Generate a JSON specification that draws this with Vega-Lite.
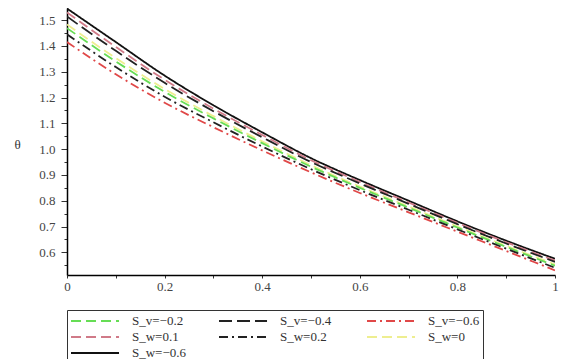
{
  "$schema": "https://vega.github.io/schema/vega-lite/v6.json",
  "width": 488,
  "height": 267,
  "autosize": {"type": "none"},
  "padding": {"left": 67, "top": 8, "right": 13, "bottom": 84},
  "background": "white",
  "config": {
    "view": {"stroke": null},
    "font": "Liberation Serif",
    "axis": {"domainColor": "black", "domainWidth": 1.5, "tickColor": "#333", "labelColor": "#444", "grid": false}
  },
  "data": {"values": [
    {"series": "S_w=−0.6", "x": 0.0, "theta": 1.545},
    {"series": "S_w=−0.6", "x": 0.1, "theta": 1.415},
    {"series": "S_w=−0.6", "x": 0.2, "theta": 1.285},
    {"series": "S_w=−0.6", "x": 0.3, "theta": 1.17},
    {"series": "S_w=−0.6", "x": 0.4, "theta": 1.065},
    {"series": "S_w=−0.6", "x": 0.5, "theta": 0.965},
    {"series": "S_w=−0.6", "x": 0.6, "theta": 0.88},
    {"series": "S_w=−0.6", "x": 0.7, "theta": 0.8},
    {"series": "S_w=−0.6", "x": 0.8, "theta": 0.72},
    {"series": "S_w=−0.6", "x": 0.9, "theta": 0.645},
    {"series": "S_w=−0.6", "x": 1.0, "theta": 0.575},

    {"series": "S_w=0.1", "x": 0.0, "theta": 1.53},
    {"series": "S_w=0.1", "x": 0.1, "theta": 1.396},
    {"series": "S_w=0.1", "x": 0.2, "theta": 1.269},
    {"series": "S_w=0.1", "x": 0.3, "theta": 1.157},
    {"series": "S_w=0.1", "x": 0.4, "theta": 1.055},
    {"series": "S_w=0.1", "x": 0.5, "theta": 0.957},
    {"series": "S_w=0.1", "x": 0.6, "theta": 0.873},
    {"series": "S_w=0.1", "x": 0.7, "theta": 0.793},
    {"series": "S_w=0.1", "x": 0.8, "theta": 0.714},
    {"series": "S_w=0.1", "x": 0.9, "theta": 0.639},
    {"series": "S_w=0.1", "x": 1.0, "theta": 0.568},

    {"series": "S_v=−0.4", "x": 0.0, "theta": 1.514},
    {"series": "S_v=−0.4", "x": 0.1, "theta": 1.381},
    {"series": "S_v=−0.4", "x": 0.2, "theta": 1.257},
    {"series": "S_v=−0.4", "x": 0.3, "theta": 1.147},
    {"series": "S_v=−0.4", "x": 0.4, "theta": 1.046},
    {"series": "S_v=−0.4", "x": 0.5, "theta": 0.95},
    {"series": "S_v=−0.4", "x": 0.6, "theta": 0.867},
    {"series": "S_v=−0.4", "x": 0.7, "theta": 0.788},
    {"series": "S_v=−0.4", "x": 0.8, "theta": 0.709},
    {"series": "S_v=−0.4", "x": 0.9, "theta": 0.634},
    {"series": "S_v=−0.4", "x": 1.0, "theta": 0.563},

    {"series": "S_w=0", "x": 0.0, "theta": 1.483},
    {"series": "S_w=0", "x": 0.1, "theta": 1.353},
    {"series": "S_w=0", "x": 0.2, "theta": 1.233},
    {"series": "S_w=0", "x": 0.3, "theta": 1.128},
    {"series": "S_w=0", "x": 0.4, "theta": 1.03},
    {"series": "S_w=0", "x": 0.5, "theta": 0.938},
    {"series": "S_w=0", "x": 0.6, "theta": 0.855},
    {"series": "S_w=0", "x": 0.7, "theta": 0.778},
    {"series": "S_w=0", "x": 0.8, "theta": 0.7},
    {"series": "S_w=0", "x": 0.9, "theta": 0.625},
    {"series": "S_w=0", "x": 1.0, "theta": 0.553},

    {"series": "S_v=−0.2", "x": 0.0, "theta": 1.469},
    {"series": "S_v=−0.2", "x": 0.1, "theta": 1.34},
    {"series": "S_v=−0.2", "x": 0.2, "theta": 1.222},
    {"series": "S_v=−0.2", "x": 0.3, "theta": 1.119},
    {"series": "S_v=−0.2", "x": 0.4, "theta": 1.023},
    {"series": "S_v=−0.2", "x": 0.5, "theta": 0.932},
    {"series": "S_v=−0.2", "x": 0.6, "theta": 0.85},
    {"series": "S_v=−0.2", "x": 0.7, "theta": 0.773},
    {"series": "S_v=−0.2", "x": 0.8, "theta": 0.696},
    {"series": "S_v=−0.2", "x": 0.9, "theta": 0.621},
    {"series": "S_v=−0.2", "x": 1.0, "theta": 0.548},

    {"series": "S_w=0.2", "x": 0.0, "theta": 1.445},
    {"series": "S_w=0.2", "x": 0.1, "theta": 1.318},
    {"series": "S_w=0.2", "x": 0.2, "theta": 1.203},
    {"series": "S_w=0.2", "x": 0.3, "theta": 1.104},
    {"series": "S_w=0.2", "x": 0.4, "theta": 1.01},
    {"series": "S_w=0.2", "x": 0.5, "theta": 0.922},
    {"series": "S_w=0.2", "x": 0.6, "theta": 0.841},
    {"series": "S_w=0.2", "x": 0.7, "theta": 0.765},
    {"series": "S_w=0.2", "x": 0.8, "theta": 0.689},
    {"series": "S_w=0.2", "x": 0.9, "theta": 0.614},
    {"series": "S_w=0.2", "x": 1.0, "theta": 0.54},

    {"series": "S_v=−0.6", "x": 0.0, "theta": 1.415},
    {"series": "S_v=−0.6", "x": 0.1, "theta": 1.29},
    {"series": "S_v=−0.6", "x": 0.2, "theta": 1.18},
    {"series": "S_v=−0.6", "x": 0.3, "theta": 1.085},
    {"series": "S_v=−0.6", "x": 0.4, "theta": 0.995},
    {"series": "S_v=−0.6", "x": 0.5, "theta": 0.91},
    {"series": "S_v=−0.6", "x": 0.6, "theta": 0.83},
    {"series": "S_v=−0.6", "x": 0.7, "theta": 0.755},
    {"series": "S_v=−0.6", "x": 0.8, "theta": 0.68},
    {"series": "S_v=−0.6", "x": 0.9, "theta": 0.605},
    {"series": "S_v=−0.6", "x": 1.0, "theta": 0.53}
  ]},
  "mark": {"type": "line", "strokeWidth": 1.8, "interpolate": "monotone", "clip": true},
  "encoding": {
    "x": {
      "field": "x", "type": "quantitative",
      "scale": {"domain": [0, 1], "nice": false, "zero": false},
      "axis": {
        "title": "y", "titleFontSize": 13, "titleColor": "#333", "titleFont": "Liberation Serif", "titleFontWeight": "normal",
        "titleX": 225, "titleY": 292, "titleBaseline": "middle", "titleAlign": "center",
        "values": [0, 0.1, 0.2, 0.3, 0.4, 0.5, 0.6, 0.7, 0.8, 0.9, 1],
        "labelExpr": "abs(datum.value*5 - round(datum.value*5)) > 0.01 ? '' : (datum.value == 0 ? '0' : datum.value == 1 ? '1' : format(datum.value, '.1f'))",
        "labelFont": "Liberation Serif", "labelFontSize": 13, "labelPadding": 2, "tickSize": 3,
        "labelFlush": false, "labelOverlap": false
      }
    },
    "y": {
      "field": "theta", "type": "quantitative",
      "scale": {"domain": [0.512, 1.547], "nice": false, "zero": false},
      "axis": {
        "title": "θ", "titleAngle": 0, "titleFontSize": 13, "titleColor": "#333", "titleFont": "Liberation Serif", "titleFontWeight": "normal",
        "titleX": -50, "titleY": 136, "titleBaseline": "middle", "titleAlign": "center",
        "values": [0.55, 0.6, 0.65, 0.7, 0.75, 0.8, 0.85, 0.9, 0.95, 1.0, 1.05, 1.1, 1.15, 1.2, 1.25, 1.3, 1.35, 1.4, 1.45, 1.5],
        "labelExpr": "abs(datum.value*10 - round(datum.value*10)) > 0.01 ? '' : format(datum.value, '.1f')",
        "labelFont": "Liberation Serif", "labelFontSize": 13, "labelPadding": 6,
        "tickSize": {"condition": {"test": "abs(datum.value*10 - round(datum.value*10)) > 0.01", "value": 3}, "value": 6},
        "labelOverlap": false
      }
    },
    "color": {
      "field": "series", "type": "nominal",
      "scale": {
        "domain": ["S_v=−0.2", "S_v=−0.4", "S_v=−0.6", "S_w=0.1", "S_w=0.2", "S_w=0", "S_w=−0.6"],
        "range": ["#66dd55", "#222222", "#e04848", "#d07a88", "#222222", "#eeee90", "#111111"]
      },
      "legend": {
        "title": null, "orient": "none", "legendX": 0, "legendY": 302,
        "columns": 3, "direction": "horizontal", "gridAlign": "all",
        "strokeColor": "#333", "padding": 3, "fillColor": "white",
        "symbolType": "M-1,0H5.86", "symbolSize": 196, "symbolStrokeWidth": 1.8,
        "labelFont": "Liberation Serif", "labelFontSize": 13, "labelColor": "#333",
        "labelOffset": 46, "columnPadding": 28, "rowPadding": 1, "labelLimit": 200
      }
    },
    "strokeDash": {
      "field": "series", "type": "nominal",
      "scale": {
        "domain": ["S_v=−0.2", "S_v=−0.4", "S_v=−0.6", "S_w=0.1", "S_w=0.2", "S_w=0", "S_w=−0.6"],
        "range": [[10, 5], [13, 5], [9, 4, 2, 4], [10, 5], [9, 4, 2, 4], [10, 5], [1, 0]]
      }
    }
  }
}
